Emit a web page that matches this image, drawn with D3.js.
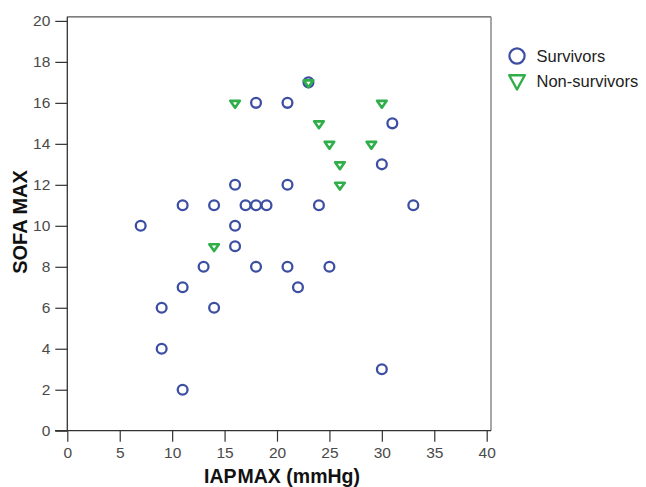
<!DOCTYPE html>
<html>
<head>
<meta charset="utf-8">
<script src="https://cdn.jsdelivr.net/npm/d3@7"></script>
<style>
html,body{margin:0;padding:0;background:#fff;}
svg{display:block;font-family:"Liberation Sans",Arial,sans-serif;}
</style>
</head>
<body>
<svg id="chart" width="646" height="487"></svg>
<script>
// Survivors: IAP MAX (mmHg), SOFA MAX
const survivorsIAP  = [7, 9, 9, 11, 11, 11, 13, 14, 14, 16, 16, 16, 17, 18, 19, 18, 18, 21, 21, 21, 22, 23, 24, 25, 30, 31, 33, 30];
const survivorsSOFA = [10, 6, 4, 11, 7, 2, 8, 11, 6, 12, 10, 9, 11, 11, 11, 16, 8, 16, 12, 8, 7, 17, 11, 8, 13, 15, 11, 3];
// Non-survivors
const nonSurvivorsIAP  = [16, 23, 24, 25, 29, 26, 26, 30, 14];
const nonSurvivorsSOFA = [16, 17, 15, 14, 14, 13, 12, 16, 9];

const xTicks = [0, 5, 10, 15, 20, 25, 30, 35, 40];
const yTicks = [0, 2, 4, 6, 8, 10, 12, 14, 16, 18, 20];
const seriesNames = ["Survivors", "Non-survivors"];

const blue = "#3d4fa3";
const green = "#2fae4a";

const svg = d3.select("#chart");
const x = d3.scaleLinear().domain([0, 40]).range([67.3, 486.7]);
const y = d3.scaleLinear().domain([0, 20]).range([430.7, 20.9]);

// frame (top/right)
svg.append("line").attr("x1", 67.3).attr("x2", 491).attr("y1", 16.8).attr("y2", 16.8)
  .attr("stroke", "#555").attr("stroke-width", 1.3);
svg.append("line").attr("x1", 491).attr("x2", 491).attr("y1", 16.8).attr("y2", 430.7)
  .attr("stroke", "#8a8a8a").attr("stroke-width", 1.5);

// y axis
const yAxis = svg.append("g").attr("transform", "translate(67.3,0)")
  .call(d3.axisLeft(y).tickValues(yTicks).tickSize(12).tickPadding(5).tickSizeOuter(0));
yAxis.select(".domain").attr("d", `M0,16.8V430.7`).attr("stroke", "#333").attr("stroke-width", 1.3);
yAxis.selectAll(".tick line").attr("stroke", "#333").attr("stroke-width", 1.2);
yAxis.selectAll(".tick text").attr("font-size", 15.5).attr("fill", "#4a4a4a")
  .attr("font-family", "Liberation Sans, Arial, sans-serif");

// x axis
const xAxis = svg.append("g").attr("transform", "translate(0,430.7)")
  .call(d3.axisBottom(x).tickValues(xTicks).tickSize(11).tickPadding(5).tickSizeOuter(0));
xAxis.select(".domain").attr("d", `M55,0H491`).attr("stroke", "#333").attr("stroke-width", 1.3);
xAxis.selectAll(".tick line").attr("stroke", "#333").attr("stroke-width", 1.2);
xAxis.selectAll(".tick text").attr("font-size", 15.5).attr("fill", "#4a4a4a")
  .attr("font-family", "Liberation Sans, Arial, sans-serif");

// axis titles
const xt = svg.append("text").attr("x", 282).attr("y", 483).attr("text-anchor", "middle")
  .attr("font-size", 19.5).attr("font-weight", "bold").attr("fill", "#111");
xt.append("tspan").text("IAP");
xt.append("tspan").attr("dx", 1).text("MAX (mmHg)");
svg.append("text").attr("transform", "translate(27,222) rotate(-90)").attr("text-anchor", "middle")
  .attr("font-size", 20).attr("font-weight", "bold").attr("fill", "#111")
  .text("SOFA MAX");

// data
const survivors = survivorsIAP.map((v, i) => ({x: v, y: survivorsSOFA[i]}));
const nonSurvivors = nonSurvivorsIAP.map((v, i) => ({x: v, y: nonSurvivorsSOFA[i]}));

svg.append("g").selectAll("circle").data(survivors).join("circle")
  .attr("cx", d => x(d.x)).attr("cy", d => y(d.y)).attr("r", 4.9)
  .attr("fill", "none").attr("stroke", blue).attr("stroke-width", 2.3);

const tri = "M-4.8,-2L4.8,-2L0,4.8Z";
svg.append("g").selectAll("path").data(nonSurvivors).join("path")
  .attr("transform", d => `translate(${x(d.x)},${y(d.y)})`)
  .attr("d", tri).attr("fill", "#fff").attr("stroke", green).attr("stroke-width", 2.6)
  .attr("stroke-linejoin", "round");

// legend
const lg = svg.append("g");
lg.append("circle").attr("cx", 517).attr("cy", 56).attr("r", 7.6)
  .attr("fill", "none").attr("stroke", blue).attr("stroke-width", 2.2);
lg.append("path").attr("d", "M509.2,75.2L524.8,75.2L517,89.5Z")
  .attr("fill", "none").attr("stroke", green).attr("stroke-width", 2.4).attr("stroke-linejoin", "round");
lg.append("text").attr("x", 536.5).attr("y", 56).attr("dy", "0.35em")
  .attr("font-size", 16.5).attr("fill", "#222").text(seriesNames[0]);
lg.append("text").attr("x", 536.5).attr("y", 81.5).attr("dy", "0.35em")
  .attr("font-size", 16.5).attr("fill", "#222").text(seriesNames[1]);
</script>
</body>
</html>
